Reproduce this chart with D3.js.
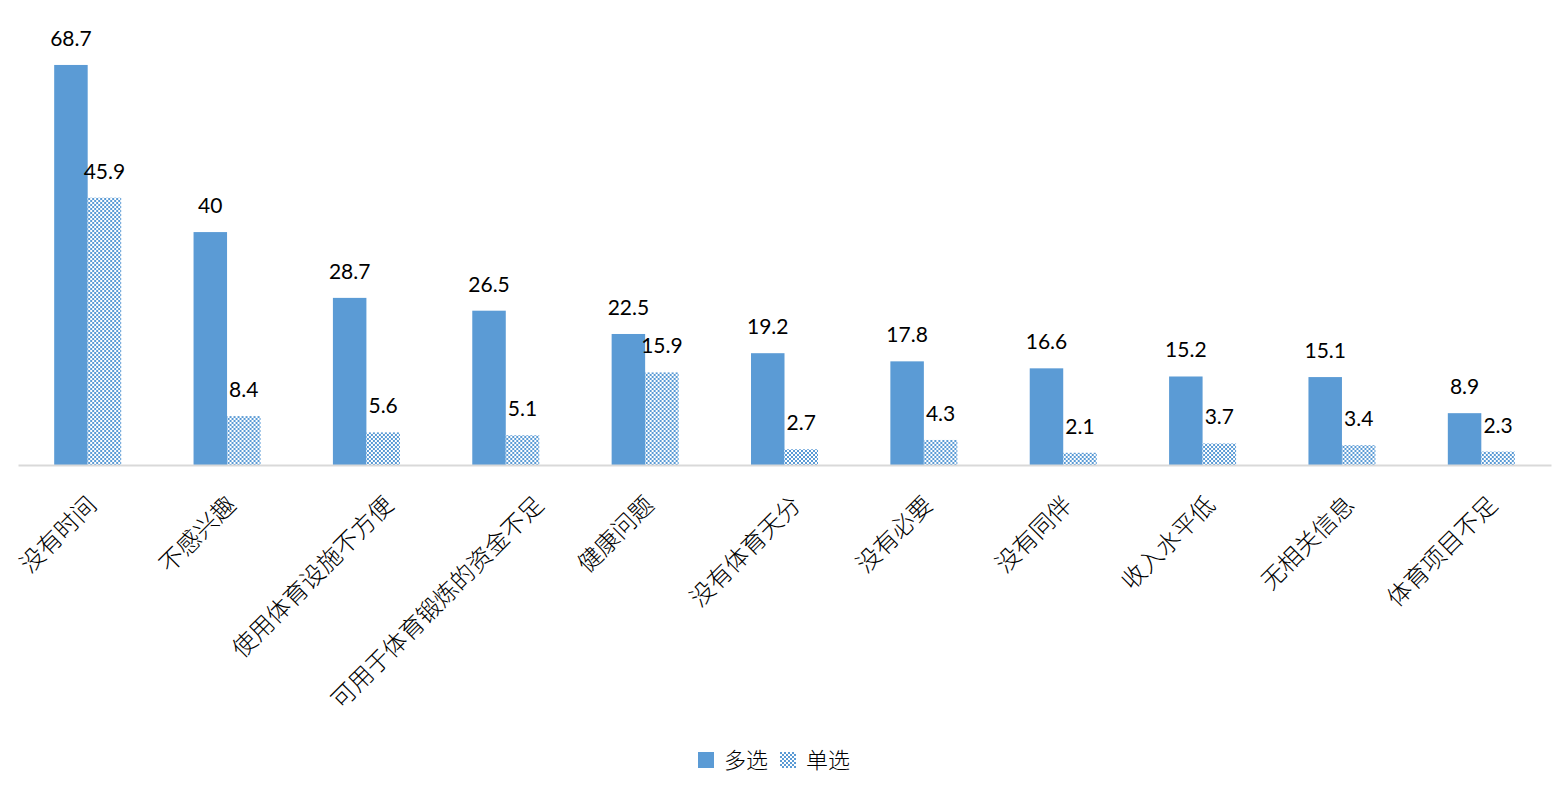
<!DOCTYPE html>
<html>
<head>
<meta charset="utf-8">
<script src="https://cdn.jsdelivr.net/npm/d3@7"></script>
<style>
  body { margin: 0; background: #fff; }
  svg { display: block; }
</style>
</head>
<body>
<svg id="chart" width="1560" height="785"></svg>
<script>
// data
const categories = ["没有时间", "不感兴趣", "使用体育设施不方便", "可用于体育锻炼的资金不足", "健康问题",
    "没有体育天分", "没有必要", "没有同伴", "收入水平低", "无相关信息", "体育项目不足"]
const seriesNames = ["多选", "单选"]
const multiValues = [68.7, 40, 28.7, 26.5, 22.5, 19.2, 17.8, 16.6, 15.2, 15.1, 8.9]
const singleValues = [45.9, 8.4, 5.6, 5.1, 15.9, 2.7, 4.3, 2.1, 3.7, 3.4, 2.3]
const yDomain = [0, 70]

const blue = "#5b9bd5"
const baseY = 465
const numFont = "Lato, 'Open Sans', sans-serif"
const cjkFont = "'Noto Sans CJK SC', sans-serif"

const svg = d3.select("#chart")

// checker pattern for the 单选 bars
const defs = svg.append("defs")
const pat = defs.append("pattern")
    .attr("id", "checker")
    .attr("patternUnits", "userSpaceOnUse")
    .attr("width", 4)
    .attr("height", 4)
pat.append("rect").attr("width", 4).attr("height", 4).attr("fill", "#fff")
pat.append("rect").attr("x", 0).attr("y", 0).attr("width", 2).attr("height", 2).attr("fill", blue)
pat.append("rect").attr("x", 2).attr("y", 2).attr("width", 2).attr("height", 2).attr("fill", blue)

const x = d3.scaleBand()
    .domain(categories)
    .range([18, 1551])
    .paddingInner(0)
    .paddingOuter(0)

const groupWidth = 67
const x1 = d3.scaleBand()
    .domain(seriesNames)
    .range([0, groupWidth])

const y = d3.scaleLinear()
    .domain(yDomain)
    .range([baseY, baseY - 70 * 5.823])

const rows = categories.map((c, i) => ({
    cat: c,
    vals: [
        { s: seriesNames[0], v: multiValues[i] },
        { s: seriesNames[1], v: singleValues[i] }
    ]
}))

const groups = svg.append("g")
    .selectAll("g")
    .data(rows)
    .join("g")
    .attr("transform", d => `translate(${x(d.cat) + x.bandwidth() / 2 - groupWidth / 2},0)`)

groups.selectAll("rect")
    .data(d => d.vals)
    .join("rect")
    .attr("x", d => x1(d.s))
    .attr("width", x1.bandwidth())
    .attr("y", d => y(d.v))
    .attr("height", d => y(0) - y(d.v))
    .attr("fill", d => d.s === "多选" ? blue : "url(#checker)")

groups.selectAll("text.val")
    .data(d => d.vals)
    .join("text")
    .attr("class", "val")
    .attr("x", d => x1(d.s) + x1.bandwidth() / 2)
    .attr("y", d => y(d.v) - 19)
    .attr("text-anchor", "middle")
    .style("font-family", numFont)
    .style("font-size", "21px")
    .attr("fill", "#000")
    .text(d => d.v)

// x axis: only the baseline, labels placed by hand below
const axis = svg.append("g")
    .attr("transform", `translate(0,${baseY})`)
    .call(d3.axisBottom(x).tickSize(0).tickSizeOuter(0))
axis.select(".domain").attr("stroke", "#d9d9d9").attr("stroke-width", 2)
axis.selectAll(".tick text").remove()

const labels = svg.append("g")
    .selectAll("text")
    .data(categories)
    .join("text")
    .attr("text-anchor", "end")
    .attr("dy", "0.85em")
    .style("font-family", cjkFont)
    .style("font-size", "24px")
    .style("font-weight", 300)
    .attr("fill", "#000")
    .text(d => d)

// longer labels sit further right, as in the original
labels.each(function (d) {
    const len = this.getComputedTextLength()
    const ax = x(d) + x.bandwidth() / 2 - 18.5 + 0.151 * len
    d3.select(this).attr("transform", `translate(${ax},492) rotate(-45)`)
})

// legend
const legend = svg.append("g").attr("transform", "translate(698,752)")
const legendItems = [
    { name: seriesNames[0], fill: blue, x: 0 },
    { name: seriesNames[1], fill: "url(#checker)", x: 82 }
]
const li = legend.selectAll("g")
    .data(legendItems)
    .join("g")
    .attr("transform", d => `translate(${d.x},0)`)
li.append("rect")
    .attr("width", 16)
    .attr("height", 16)
    .attr("fill", d => d.fill)
li.append("text")
    .attr("x", 26)
    .attr("y", 16)
    .style("font-family", cjkFont)
    .style("font-size", "22px")
    .style("font-weight", 300)
    .attr("fill", "#000")
    .text(d => d.name)
</script>
</body>
</html>
